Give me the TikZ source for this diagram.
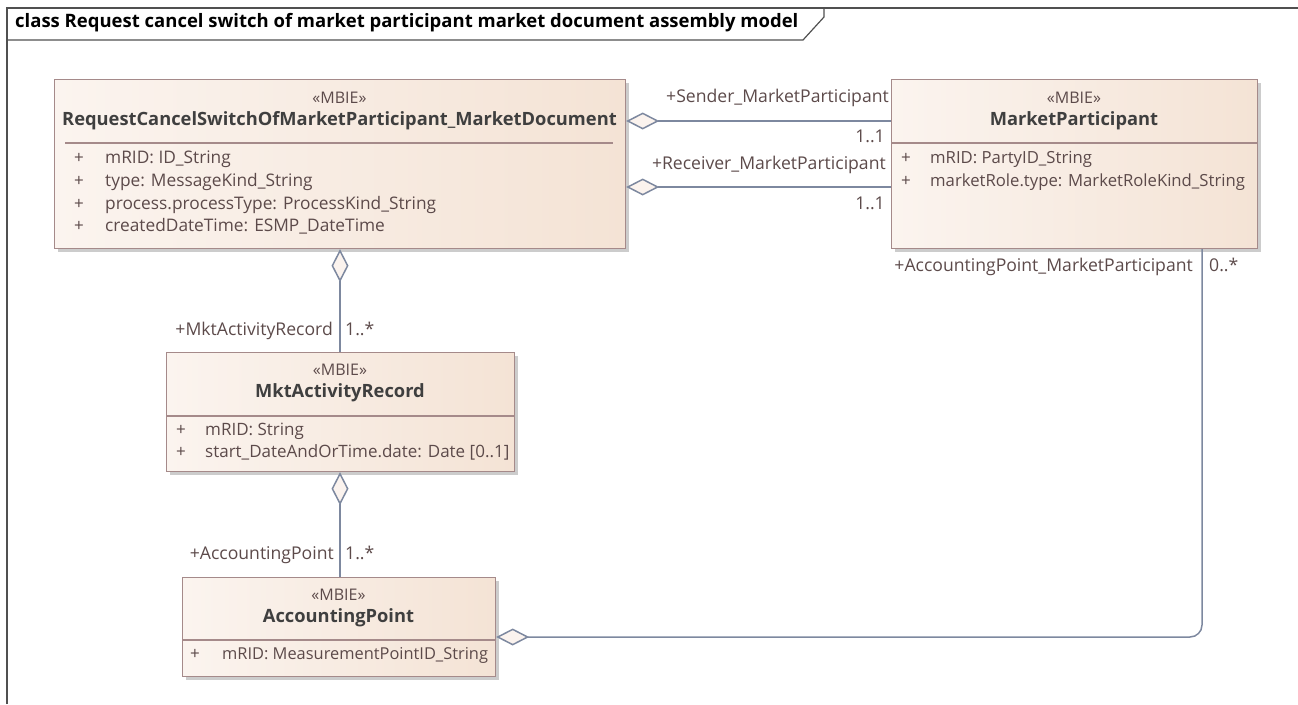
\documentclass[tikz,border=0pt]{standalone}
\usepackage{fontspec}
\setmainfont{Open Sans}
\usetikzlibrary{arrows.meta,shadows}
\definecolor{boxL}{HTML}{FBF4EF}
\definecolor{boxR}{HTML}{F4E3D5}
\definecolor{boxB}{HTML}{A58A8A}
\definecolor{lineC}{HTML}{7D889F}
\definecolor{txtN}{HTML}{3F3F3F}
\definecolor{txtA}{HTML}{5C4A4A}
\definecolor{frameC}{HTML}{505050}
\definecolor{diamF}{HTML}{FBF3EE}
\tikzset{
  umlbox/.style={draw=boxB, line width=1.2pt, left color=boxL, right color=boxR,
    anchor=north west, inner sep=0pt,
    general shadow={fill=black!20, shadow xshift=3pt, shadow yshift=-3pt}},
  sepline/.style={draw=boxB, line width=1.2pt},
  stereo/.style={font=\fontsize{16}{18}\selectfont, text=txtA, inner sep=0pt, anchor=mid},
  cname/.style={font=\bfseries\fontsize{18.3}{21}\selectfont, text=txtN, inner sep=0pt, anchor=mid},
  attr/.style={font=\fontsize{17}{19}\selectfont, text=txtA, inner sep=0pt, anchor=mid west},
  vis/.style={font=\fontsize{17}{19}\selectfont, text=txtA, inner sep=0pt, anchor=mid},
  lbl/.style={font=\fontsize{17.6}{20}\selectfont, text=txtA, inner sep=0pt},
  conn/.style={draw=lineC, line width=1.5pt},
  agg/.style={conn, {Diamond[length=33pt, width=17pt, fill=diamF, line width=1.5pt]}-},
  framel/.style={draw=frameC, line width=1.2pt},
}
\begin{document}
\begin{tikzpicture}[x=1pt, y=-1pt]
\useasboundingbox (0,0) rectangle (1298,704);
% frame
\draw[framel] (7,704) -- (7,8) -- (1298,8);
\draw[framel] (7,40) -- (803,40) -- (824,17) -- (824,8);
\node[font=\bfseries\fontsize{18.5}{20}\selectfont, text=black, inner sep=0pt, anchor=mid west] (title) at (15,25)
  {class Request cancel switch of market participant market document assembly model};

% RequestCancelSwitch box
\node[umlbox, minimum width=571pt, minimum height=169pt] (rcs) at (54,79) {};
\node[stereo] (rcsst) at (339.5,101) {«MBIE»};
\node[cname] (rcsnm) at (339.5,123) {RequestCancelSwitchOfMarketParticipant\_MarketDocument};
\draw[sepline] (65,143) -- (613,143);
\foreach \yy/\tt in {161/{mRID: ID\_String}, 184/{type: MessageKind\_String},
   207/{process.processType: ProcessKind\_String}, 229/{createdDateTime: ESMP\_DateTime}} {
  \node[vis] at (79,\yy) {+};
  \node[attr, font=\fontsize{17.3}{19}\selectfont] at (105,\yy) {\tt};
}

% MarketParticipant box
\node[umlbox, minimum width=366pt, minimum height=169pt] (mp) at (891,79) {};
\node[stereo] (mpst) at (1074,101) {«MBIE»};
\node[cname] (mpnm) at (1074,123) {MarketParticipant};
\draw[sepline] (891,143) -- (1257,143);
\foreach \yy/\tt in {161/{mRID: PartyID\_String}, 184/{marketRole.type: MarketRoleKind\_String}} {
  \node[vis] at (906,\yy) {+};
  \node[attr, font=\fontsize{16.7}{19}\selectfont] at (930,\yy) {\tt};
}

% MktActivityRecord box
\node[umlbox, minimum width=348pt, minimum height=119pt] (mar) at (166,352) {};
\node[stereo] (marst) at (340,373) {«MBIE»};
\node[cname] (marnm) at (340,395) {MktActivityRecord};
\draw[sepline] (166,416) -- (514,416);
\foreach \yy/\tt in {433/{mRID: String}, 455/{start\_DateAndOrTime.date: Date [0..1]}} {
  \node[vis] at (181,\yy) {+};
  \node[attr] at (205,\yy) {\tt};
}

% AccountingPoint box
\node[umlbox, minimum width=313pt, minimum height=99pt] (ap) at (182,577) {};
\node[stereo] (apst) at (338.5,598) {«MBIE»};
\node[cname] (apnm) at (338.5,620) {AccountingPoint};
\draw[sepline] (182,640) -- (495,640);
\node[vis] at (195,657) {+};
\node[attr, font=\fontsize{16.4}{19}\selectfont] at (222,657) {mRID: MeasurementPointID\_String};

% connectors
\draw[agg] (rcs.east |- 0,121) -- (mp.west |- 0,121);
\draw[agg] (rcs.east |- 0,187) -- (mp.west |- 0,187);
\draw[agg] (rcs.south -| 340,0) -- (mar.north -| 340,0);
\draw[agg] (mar.south -| 340,0) -- (ap.north -| 340,0);
\draw[agg, rounded corners=12pt] (ap.east |- 0,637) -| (mp.south -| 1202,0);

% connector labels
\node[lbl, anchor=mid east] (l1) at (889,100) {+Sender\_MarketParticipant};
\node[lbl, anchor=mid east] (m1) at (885,140) {1..1};
\node[lbl, anchor=mid east] (l2) at (886,167) {+Receiver\_MarketParticipant};
\node[lbl, anchor=mid east] (m2) at (885,207) {1..1};
\node[lbl, anchor=mid east] (l3) at (333,333) {+MktActivityRecord};
\node[lbl, anchor=mid west] (m3) at (345,333) {1..*};
\node[lbl, anchor=mid east] (l4) at (334,557) {+AccountingPoint};
\node[lbl, anchor=mid west] (m4) at (345,557) {1..*};
\node[lbl, anchor=mid east] (l5) at (1193,269) {+AccountingPoint\_MarketParticipant};
\node[lbl, anchor=mid west] (m5) at (1209,269) {0..*};
\end{tikzpicture}
\end{document}
